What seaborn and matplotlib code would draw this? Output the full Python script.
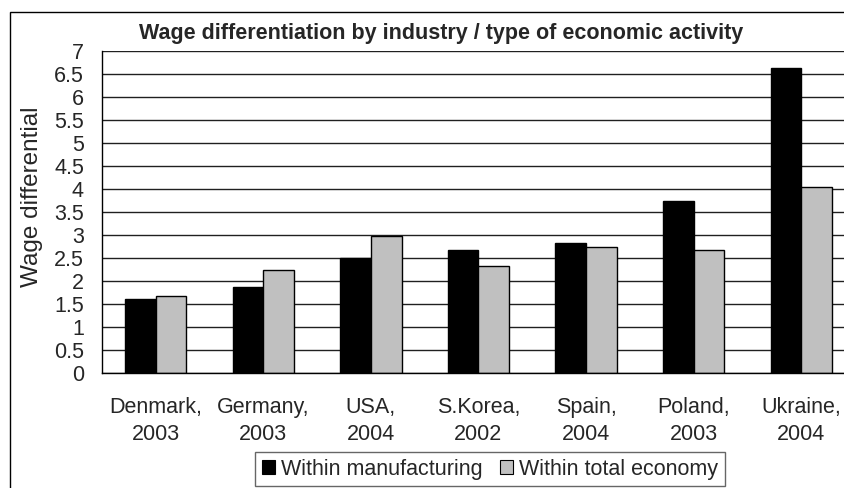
import matplotlib
matplotlib.use("Agg")
import matplotlib.pyplot as plt
import matplotlib.patches as mpatches
import numpy as np
import pandas as pd
import seaborn as sns

countries = ["Denmark,\n2003", "Germany,\n2003", "USA,\n2004", "S.Korea,\n2002",
             "Spain,\n2004", "Poland,\n2003", "Ukraine,\n2004"]
manufacturing = [1.61, 1.86, 2.49, 2.68, 2.83, 3.75, 6.64]
total_economy = [1.67, 2.23, 2.97, 2.33, 2.74, 2.67, 4.04]
series = ["Within manufacturing", "Within total economy"]
colors = ["#000000", "#C0C0C0"]
y_ticks = np.arange(0, 7.01, 0.5)

df = pd.DataFrame({
    "country": countries * 2,
    "value": manufacturing + total_economy,
    "series": [series[0]] * len(countries) + [series[1]] * len(countries),
})

sns.set_style("white")
plt.rcParams["font.family"] = ["Liberation Sans", "DejaVu Sans"]

W, H = 845, 488
fig = plt.figure(figsize=(W / 100, H / 100), dpi=100)
ax = fig.add_axes([102 / W, 1 - 373 / H, (855 - 102) / W, (373 - 51) / H])

sns.barplot(data=df, x="country", y="value", hue="series", palette=colors,
            width=0.57, edgecolor="black", linewidth=1.0, saturation=1,
            legend=False, ax=ax)

ax.set_ylim(0, 7)
ax.set_xlim(-0.5, len(countries) - 0.5)
ax.set_yticks(y_ticks)
ax.set_yticklabels([f"{t:g}" for t in y_ticks], fontsize=15.5)
ax.yaxis.grid(True, color="#202020", linewidth=1.0)
ax.set_axisbelow(True)
ax.set_xlabel("")
ax.set_ylabel("Wage differential", fontsize=17.5)
ax.yaxis.set_label_coords(-0.079, 0.547)
ax.tick_params(axis="x", length=0, pad=17, labelsize=15.5)
ax.tick_params(axis="y", length=5, width=1, color="black", direction="out", pad=8)
for lbl in ax.get_xticklabels():
    lbl.set_linespacing(1.4)
ax.set_xticks(np.arange(-0.5, len(countries), 1), minor=True)
ax.tick_params(axis="x", which="minor", length=5, width=1, color="black", direction="out")
for s in ["top", "right"]:
    ax.spines[s].set_visible(False)
for s in ["left", "bottom"]:
    ax.spines[s].set_color("black")
    ax.spines[s].set_linewidth(1.0)

fig.text(441 / W, 1 - 33 / H, "Wage differentiation by industry / type of economic activity",
         ha="center", va="center", fontsize=15.5, fontweight="bold")

frame = mpatches.Rectangle((10 / W, -0.05), 1.0, (H - 12) / H + 0.05, transform=fig.transFigure,
                           fill=False, edgecolor="black", linewidth=1.0)
fig.patches.append(frame)

handles = [mpatches.Patch(facecolor=c, edgecolor="black", linewidth=0.8) for c in colors]
leg = fig.legend(handles, series, loc="center", bbox_to_anchor=(490 / W, 1 - 469 / H),
                 ncol=2, fontsize=15.5, frameon=True, fancybox=False, handlelength=0.6,
                 handleheight=0.6, handletextpad=0.3, columnspacing=0.8, borderpad=0.3,
                 borderaxespad=0)
leg.get_frame().set_edgecolor("#404040")
leg.get_frame().set_linewidth(1.0)

fig.savefig("out.png", dpi=100)
